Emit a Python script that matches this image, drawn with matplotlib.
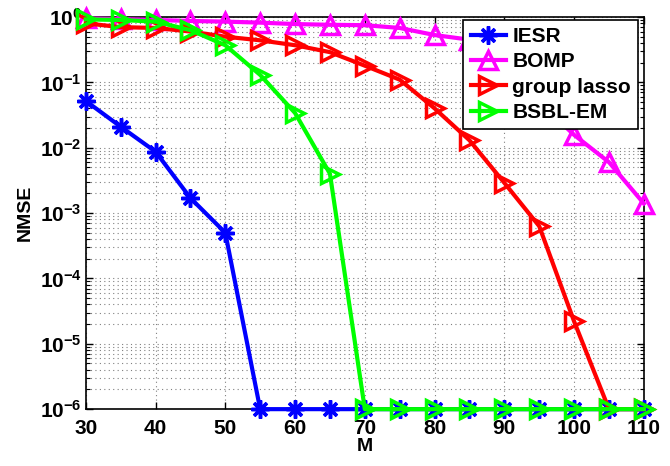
import matplotlib
matplotlib.use("Agg")
import matplotlib.pyplot as plt
from matplotlib.ticker import LogLocator, NullFormatter, FixedLocator

plt.rcParams['font.family'] = ['Liberation Sans', 'DejaVu Sans']
plt.rcParams['font.weight'] = 'bold'
plt.rcParams['mathtext.fontset'] = 'custom'
plt.rcParams['mathtext.rm'] = 'Liberation Sans:bold'
plt.rcParams['mathtext.it'] = 'Liberation Sans:bold:italic'
plt.rcParams['mathtext.bf'] = 'Liberation Sans:bold'

M = [30, 35, 40, 45, 50, 55, 60, 65, 70, 75, 80, 85, 90, 95, 100, 105, 110]

iesr = [0.052, 0.021, 0.0087, 0.0017, 0.0005, 1e-6, 1e-6, 1e-6, 1e-6, 1e-6,
        1e-6, 1e-6, 1e-6, 1e-6, 1e-6, 1e-6, 1e-6]
bomp = [0.95, 0.93, 0.9, 0.87, 0.85, 0.82, 0.78, 0.76, 0.75, 0.68,
        0.53, 0.45, 0.15, 0.05, 0.0157, 0.006, 0.0014]
glasso = [0.8, 0.7, 0.68, 0.6, 0.5, 0.44, 0.37, 0.29, 0.18, 0.11,
          0.04, 0.013, 0.0029, 0.00063, 2.2e-5, 1e-6, 1e-6]
bsbl = [0.92, 0.9, 0.85, 0.63, 0.37, 0.13, 0.034, 0.004, 1e-6, 1e-6,
        1e-6, 1e-6, 1e-6, 1e-6, 1e-6, 1e-6, 1e-6]

fig = plt.figure(figsize=(6.7, 4.66), dpi=100)
ax = fig.add_axes([0.128, 0.122, 0.833, 0.8415])

lw = 3
ms = 13
mew = 2.5
ax.plot(M, iesr, color='#0000ff', lw=lw, marker=(8, 2, 0), ms=ms, mew=mew,
        label='IESR', clip_on=False, zorder=3)
ax.plot(M, bomp, color='#ff00ff', lw=lw, marker='^', ms=ms, mew=mew, mfc='none',
        label='BOMP', clip_on=False, zorder=3)
ax.plot(M, glasso, color='#ff0000', lw=lw, marker='>', ms=ms, mew=mew, mfc='none',
        label='group lasso', clip_on=False, zorder=3)
ax.plot(M, bsbl, color='#00ff00', lw=lw, marker='>', ms=ms, mew=mew, mfc='none',
        label='BSBL-EM', clip_on=False, zorder=3)

ax.set_yscale('log')
ax.set_xlim(30, 110)
ax.set_ylim(1e-6, 1)
ax.xaxis.set_major_locator(FixedLocator(range(30, 111, 10)))
ax.yaxis.set_major_locator(LogLocator(base=10, numticks=10))
ax.yaxis.set_minor_locator(LogLocator(base=10, subs=range(2, 10), numticks=20))
ax.yaxis.set_minor_formatter(NullFormatter())

ax.grid(True, which='major', color='#808080', ls=(0, (1, 3)), lw=0.8)
ax.grid(True, which='minor', axis='y', color='#808080', ls=(0, (1, 3)), lw=0.8)
ax.tick_params(which='both', direction='in', top=True, right=True, labelsize=15)
ax.tick_params(which='major', length=5, width=1)
ax.tick_params(which='minor', length=3, width=0.8)
ax.tick_params(axis='x', pad=7)
ax.tick_params(axis='y', pad=3)
for s in ax.spines.values():
    s.set_linewidth(1.2)

ax.set_xlabel('M', fontsize=14, fontweight='bold', labelpad=0)
ax.set_ylabel('NMSE', fontsize=14, fontweight='bold', labelpad=4)

leg = ax.legend(loc='upper right', bbox_to_anchor=(0.99, 0.993), fontsize=15,
                fancybox=False, edgecolor='black', framealpha=1,
                handlelength=1.7, handletextpad=0.3, borderpad=0.35,
                labelspacing=0.3, borderaxespad=0)
leg.get_frame().set_linewidth(1.2)

fig.savefig('out.png', dpi=100)
